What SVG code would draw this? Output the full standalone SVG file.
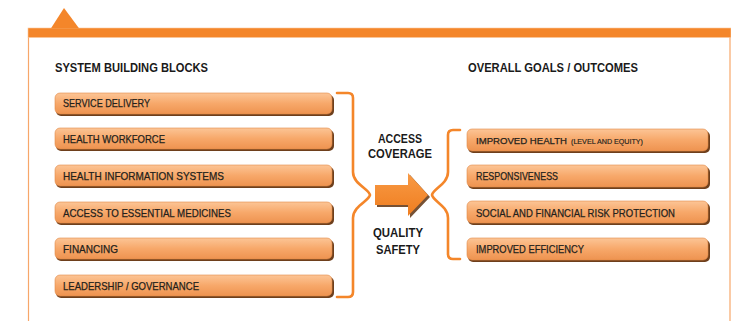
<svg xmlns="http://www.w3.org/2000/svg" width="731" height="321" viewBox="0 0 731 321">
  <defs>
    <linearGradient id="boxg" x1="0" y1="0" x2="0" y2="1">
      <stop offset="0" stop-color="#fcc596"/>
      <stop offset="0.5" stop-color="#f7a86a"/>
      <stop offset="1" stop-color="#ee9350"/>
    </linearGradient>
    <linearGradient id="arrg" x1="0" y1="0" x2="0" y2="1">
      <stop offset="0" stop-color="#f89a45"/>
      <stop offset="1" stop-color="#ef7d1f"/>
    </linearGradient>
    <style>
      .shadow { fill: #6e3f1c; }
      .box { fill: url(#boxg); stroke: #e08a48; stroke-width: 0.6; }
      .lbl { font-family: "Liberation Sans", Arial, sans-serif; font-size: 11px; fill: #231f1c; stroke: #231f1c; stroke-width: 0.25; }
      .tight { font-size: 9.7px; }
      .small { font-size: 6.5px; stroke-width: 0.15; }
      .title { font-family: "Liberation Sans", Arial, sans-serif; font-size: 12.5px; font-weight: bold; fill: #1a1a1a; }
      .mid { font-family: "Liberation Sans", Arial, sans-serif; font-size: 12.5px; font-weight: bold; fill: #1a1a1a; text-anchor: middle; }
      .brace { fill: none; stroke: #f4862a; stroke-width: 2.6; stroke-linejoin: round; stroke-linecap: round; }
      .frame { fill: none; stroke: #f7a76a; stroke-width: 1.2; }
    </style>
  </defs>

  <rect x="0" y="0" width="731" height="321" fill="#ffffff"/>

  <g id="frame">
    <line class="frame" x1="28.5" y1="37" x2="28.5" y2="321"/>
    <line class="frame" x1="730" y1="37" x2="730" y2="321"/>
    <rect x="28" y="28" width="703" height="9.5" fill="#f4862a" stroke="#fbc79c" stroke-width="0.6"/>
    <polygon points="51,28.3 64,8 79,28.3" fill="#f4862a"/>
  </g>

  <g id="titles">
    <text class="title" x="55" y="72" textLength="153" lengthAdjust="spacingAndGlyphs">SYSTEM BUILDING BLOCKS</text>
    <text class="title" x="468" y="72" textLength="170" lengthAdjust="spacingAndGlyphs">OVERALL GOALS / OUTCOMES</text>
  </g>

  <g id="service-delivery">
    <rect class="shadow" x="56" y="95" width="278" height="21" rx="5"/>
    <rect class="box" x="55" y="93" width="277" height="21" rx="5"/>
    <text class="lbl" x="63" y="107" textLength="87" lengthAdjust="spacingAndGlyphs">SERVICE DELIVERY</text>
  </g>
  <g id="health-workforce">
    <rect class="shadow" x="56" y="130" width="278" height="21" rx="5"/>
    <rect class="box" x="55" y="128" width="277" height="21" rx="5"/>
    <text class="lbl" x="63" y="143" textLength="102" lengthAdjust="spacingAndGlyphs">HEALTH WORKFORCE</text>
  </g>
  <g id="health-information-systems">
    <rect class="shadow" x="56" y="167" width="278" height="21" rx="5"/>
    <rect class="box" x="55" y="165" width="277" height="21" rx="5"/>
    <text class="lbl" x="63" y="180" textLength="161" lengthAdjust="spacingAndGlyphs">HEALTH INFORMATION SYSTEMS</text>
  </g>
  <g id="access-to-essential-medicines">
    <rect class="shadow" x="56" y="204" width="278" height="21" rx="5"/>
    <rect class="box" x="55" y="202" width="277" height="21" rx="5"/>
    <text class="lbl" x="63" y="217" textLength="168" lengthAdjust="spacingAndGlyphs">ACCESS TO ESSENTIAL MEDICINES</text>
  </g>
  <g id="financing">
    <rect class="shadow" x="56" y="240" width="278" height="21" rx="5"/>
    <rect class="box" x="55" y="238" width="277" height="21" rx="5"/>
    <text class="lbl" x="63" y="253" textLength="55" lengthAdjust="spacingAndGlyphs">FINANCING</text>
  </g>
  <g id="leadership-governance">
    <rect class="shadow" x="56" y="277" width="278" height="21" rx="5"/>
    <rect class="box" x="55" y="275" width="277" height="21" rx="5"/>
    <text class="lbl" x="63" y="290" textLength="136" lengthAdjust="spacingAndGlyphs">LEADERSHIP / GOVERNANCE</text>
  </g>

  <g id="improved-health">
    <rect class="shadow" x="468" y="131" width="242" height="22" rx="5"/>
    <rect class="box" x="467" y="129" width="241" height="22" rx="5"/>
    <text class="lbl tight" x="476" y="144" textLength="91" lengthAdjust="spacingAndGlyphs">IMPROVED HEALTH</text>
    <text class="lbl small" x="571" y="144" textLength="72" lengthAdjust="spacingAndGlyphs">(LEVEL AND EQUITY)</text>
  </g>
  <g id="responsiveness">
    <rect class="shadow" x="468" y="167" width="242" height="22" rx="5"/>
    <rect class="box" x="467" y="165" width="241" height="22" rx="5"/>
    <text class="lbl" x="476" y="180" textLength="82" lengthAdjust="spacingAndGlyphs">RESPONSIVENESS</text>
  </g>
  <g id="social-financial-risk-protection">
    <rect class="shadow" x="468" y="203" width="242" height="22" rx="5"/>
    <rect class="box" x="467" y="201" width="241" height="22" rx="5"/>
    <text class="lbl" x="476" y="217" textLength="199" lengthAdjust="spacingAndGlyphs">SOCIAL AND FINANCIAL RISK PROTECTION</text>
  </g>
  <g id="improved-efficiency">
    <rect class="shadow" x="468" y="240" width="242" height="22" rx="5"/>
    <rect class="box" x="467" y="238" width="241" height="22" rx="5"/>
    <text class="lbl" x="476" y="253" textLength="108" lengthAdjust="spacingAndGlyphs">IMPROVED EFFICIENCY</text>
  </g>

  <g id="mid-labels">
    <text class="mid" x="400" y="143" textLength="44" lengthAdjust="spacingAndGlyphs">ACCESS</text>
    <text class="mid" x="400" y="158" textLength="64" lengthAdjust="spacingAndGlyphs">COVERAGE</text>
    <text class="mid" x="398" y="237" textLength="50" lengthAdjust="spacingAndGlyphs">QUALITY</text>
    <text class="mid" x="398" y="254" textLength="44" lengthAdjust="spacingAndGlyphs">SAFETY</text>
  </g>

  <g id="connectors">
    <path class="brace" d="M337 93 H348 Q353 93 353 98 V172 C353 184 369 189 370 195 C369 201 353 206 353 218 V292 Q353 297 348 297 H337"/>
    <path class="brace" d="M460 130 H453 Q448 130 448 135 V172 C448 184 433 189 432 195 C433 201 448 206 448 218 V254 Q448 259 453 259 H460"/>
    <polygon points="377,187 410,187 410,175 430,197 410,218 410,207 377,207" fill="#5e3210" opacity="0.85"/>
    <polygon points="375,185 408,185 408,173 428,195 408,216 408,205 375,205" fill="url(#arrg)"/>
  </g>
</svg>
